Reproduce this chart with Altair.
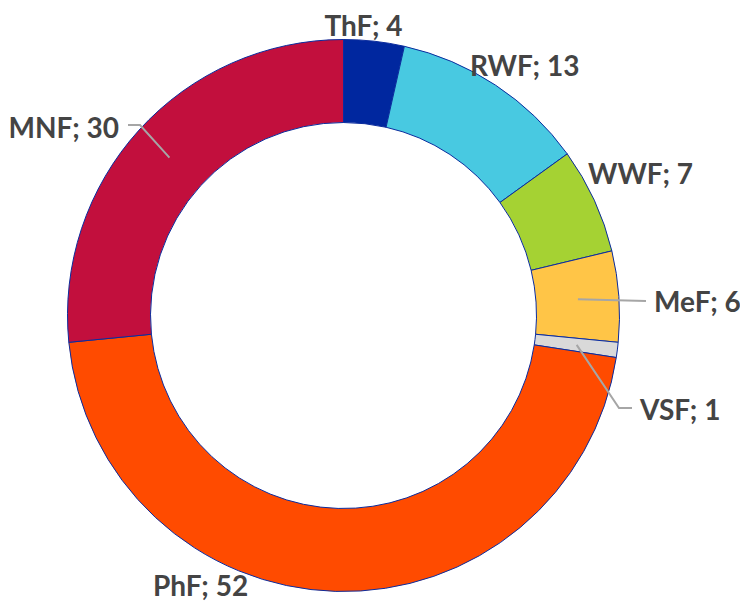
import math
import altair as alt
import pandas as pd

# ---- data ----
categories = ["ThF", "RWF", "WWF", "MeF", "VSF", "PhF", "MNF"]
values = [4, 13, 7, 6, 1, 52, 30]
colors = ["#00279F", "#48C9E1", "#A5D233", "#FFC547", "#D9D9D9", "#FF4B00", "#C20F3D"]

# ---- layout (pixels inside the chart) ----
W, H = 732, 594
CX, CY = 335.5, 307.5
R_IN, R_OUT = 193, 276
R_CONN = 235
FONT = "Lato"
FS = 28

# label anchors: (x, baseline y, align)
label_layout = {
    "ThF": (355.5, 28, "center"),
    "RWF": (462, 68, "left"),
    "WWF": (580, 176, "left"),
    "MeF": (646, 304, "left"),
    "VSF": (632, 412, "left"),
    "PhF": (145, 588, "left"),
    "MNF": (111, 130, "right"),
}
# connector bend/end points for labels that have connectors
connector_layout = {
    "MNF": [(132, 117), (120, 117)],
    "MeF": [(638, 293)],
    "VSF": [(611, 400), (624, 400)],
}

total = sum(values)
df = pd.DataFrame({"cat": categories, "value": values, "idx": range(len(values))})

arcs = alt.Chart(df).mark_arc(
    innerRadius=R_IN, outerRadius=R_OUT, stroke="#0B2C9E", strokeWidth=1
).encode(
    theta=alt.Theta("value:Q", stack=True),
    color=alt.Color("cat:N", scale=alt.Scale(domain=categories, range=colors), legend=None),
    order=alt.Order("idx:Q"),
    x=alt.value(CX),
    y=alt.value(CY),
)

# label table
rows = []
for c, v in zip(categories, values):
    x, y, a = label_layout[c]
    rows.append({"cat": c, "text": f"{c}; {v}", "x": x, "y": y, "align": a})
ldf = pd.DataFrame(rows)

text_layers = []
for a in ["left", "right", "center"]:
    sub = ldf[ldf["align"] == a]
    if len(sub) == 0:
        continue
    text_layers.append(
        alt.Chart(sub).mark_text(
            align=a, baseline="alphabetic", font=FONT, fontSize=FS,
            fontWeight="bold", color="#444444"
        ).encode(
            x=alt.X("x:Q", scale=None, axis=None),
            y=alt.Y("y:Q", scale=None, axis=None),
            text="text:N",
        )
    )

# connectors from the middle of each slice
crow = []
cum = 0
for c, v in zip(categories, values):
    mid = (cum + v / 2) / total * 2 * math.pi
    cum += v
    if c in connector_layout:
        pts = [(CX + R_CONN * math.sin(mid), CY - R_CONN * math.cos(mid))] + connector_layout[c]
        for i, (px, py) in enumerate(pts):
            crow.append({"cat": c, "i": i, "x": px, "y": py})
cdf = pd.DataFrame(crow)

conns = alt.Chart(cdf).mark_line(color="#A6A6A6", strokeWidth=2).encode(
    x=alt.X("x:Q", scale=None, axis=None),
    y=alt.Y("y:Q", scale=None, axis=None),
    detail="cat:N",
    order="i:Q",
)

chart = alt.layer(arcs, conns, *text_layers).properties(
    width=W, height=H, autosize=alt.AutoSizeParams(type="none"), padding=0
).configure_view(stroke=None)

chart.save("out.html", embed_options={"renderer": "svg", "actions": False})
